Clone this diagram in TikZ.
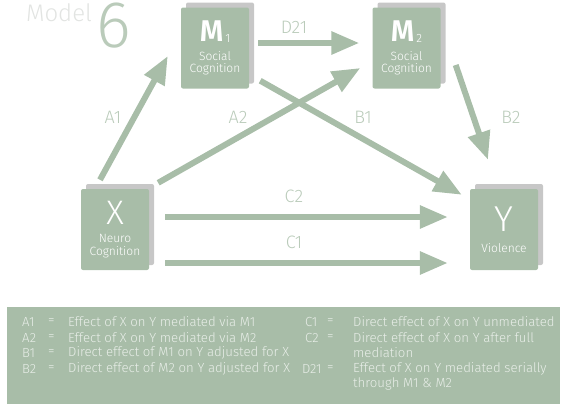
\documentclass[tikz,border=0pt]{standalone}
\usepackage{fontspec}
\setmainfont{Fira Sans Light}
\usetikzlibrary{arrows.meta,shadows}
\definecolor{sage}{RGB}{168,189,168}
\definecolor{sagelabel}{RGB}{186,203,186}
\definecolor{legendtext}{RGB}{232,238,232}
\definecolor{modelgray}{RGB}{226,228,226}

\begin{document}
\begin{tikzpicture}[x=1pt,y=-1pt,
    varbox/.style={fill=sage, text=white, align=center, inner sep=0pt,
        minimum width=68pt, minimum height=81pt, rounded corners=2pt,
        font=\fontsize{12}{12.5}\selectfont,
        drop shadow={shadow xshift=5pt, shadow yshift=5pt, fill=black!22, opacity=1}},
    path/.style={draw=sage, line width=6pt, -{Triangle[length=28pt, width=22pt]}},
    pathlabel/.style={text=sagelabel, font=\fontsize{18}{18}\selectfont},
    legendline/.style={text=legendtext, anchor=west, inner sep=0pt, font=\fontsize{13.2}{13.2}\selectfont}]

    \useasboundingbox (0,0) rectangle (567,407);

    % title
    \node[text=modelgray, font=\fontsize{24}{24}\selectfont] (model) at (59,13) {Model};
    \node[text=sagelabel, font=\fontsize{66}{66}\selectfont] (six) at (114,26) {6};

    % variables
    \node[varbox] (m1) at (215,48) {{\fontsize{30}{30}\selectfont\bfseries M}\,\raisebox{-1pt}{1}\\[6pt]
        Social\\Cognition};
    \node[varbox] (m2) at (406.5,48) {{\fontsize{30}{30}\selectfont\bfseries M}\,\raisebox{-1pt}{2}\\[6pt]
        Social\\Cognition};
    \node[varbox] (x) at (115,229.5) {{\fontsize{34}{34}\selectfont X}\\[6pt]
        Neuro\\Cognition};
    \node[varbox] (y) at (504,229.5) {{\fontsize{36}{36}\selectfont Y}\\[8pt]
        Violence};

    % paths
    \draw[path] ([shift={(9,-5)}]m1.east) -- ([shift={(-13,-5)}]m2.west);
    \draw[path] ([shift={(-15,-9)}]x.north) -- ([shift={(-13,8)}]m1.west);
    \draw[path] ([shift={(9,-6)}]x.north east) -- ([shift={(-12,20)}]m2.west);
    \draw[path] ([shift={(11,-8)}]m1.south east) -- ([shift={(-8,6)}]y.north west);
    \draw[path] ([shift={(15,17)}]m2.east) -- ([shift={(-16,-29)}]y.north);
    \draw[path] ([shift={(16,-12.5)}]x.east) -- ([shift={(-22,-12.5)}]y.west);
    \draw[path] ([shift={(16,33.5)}]x.east) -- ([shift={(-22,33.5)}]y.west);

    % path labels
    \node[pathlabel] (la1) at (113,117) {A1};
    \node[pathlabel] (la2) at (238,117) {A2};
    \node[pathlabel] (lb1) at (363,117) {B1};
    \node[pathlabel] (lb2) at (511,117) {B2};
    \node[pathlabel] (ld21) at (294,27) {D21};
    \node[pathlabel] (lc2) at (294,196) {C2};
    \node[pathlabel] (lc1) at (294,242) {C1};

    % legend
    \fill[sage] (7,307) rectangle (560,404);
    \node[legendline] (ka1) at (22,322) {A1};
    \node[legendline] (ea1) at (48,322) {=};
    \node[legendline] (ta1) at (68,322) {Effect of X on Y mediated via M1};
    \node[legendline] (ka2) at (22,338) {A2};
    \node[legendline] (ea2) at (48,338) {=};
    \node[legendline] (ta2) at (68,338) {Effect of X on Y mediated via M2};
    \node[legendline] (kb1) at (22,353) {B1};
    \node[legendline] (eb1) at (48,353) {=};
    \node[legendline] (tb1) at (68,353) {Direct effect of M1 on Y adjusted for X};
    \node[legendline] (kb2) at (22,369) {B2};
    \node[legendline] (eb2) at (48,369) {=};
    \node[legendline] (tb2) at (68,369) {Direct effect of M2 on Y adjusted for X};
    \node[legendline] (kc1) at (305,322) {C1};
    \node[legendline] (ec1) at (327,322) {=};
    \node[legendline] (tc1) at (353,322) {Direct effect of X on Y unmediated};
    \node[legendline] (kc2) at (305,338) {C2};
    \node[legendline] (ec2) at (327,338) {=};
    \node[legendline] (tc2) at (353,338) {Direct effect of X on Y after full};
    \node[legendline] (tc2b) at (353,353) {mediation};
    \node[legendline] (kd21) at (302,369) {D21};
    \node[legendline] (ed21) at (327,369) {=};
    \node[legendline] (td21) at (353,369) {Effect of X on Y mediated serially};
    \node[legendline] (td21b) at (353,384) {through M1 \& M2};

\end{tikzpicture}
\end{document}
